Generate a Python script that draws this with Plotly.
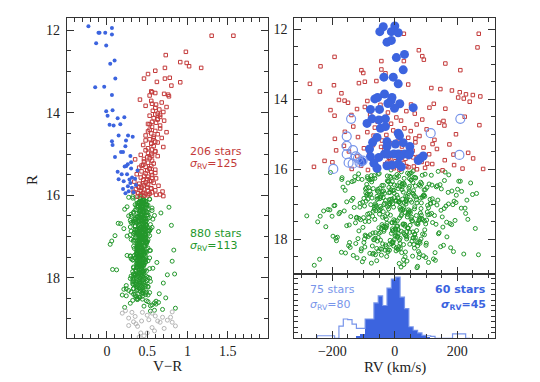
import plotly.graph_objects as go

# ---- Daten: blaue Sterne (linkes Panel, CMD)
blue_cmd_vr = [-0.23, -0.105, -0.092, -0.021, 0.062, 0.062, -0.134, -0.009, 0.095, 0.041,
               0.104, -0.146, -0.034, 0.062, -0.009, 0.07, 0.008, 0.133, 0.216, 0.033,
               0.083, 0.166, 0.145, 0.262, 0.32, 0.062, 0.07, 0.237, 0.229, 0.175,
               0.2, 0.1, 0.291, 0.258, 0.241, 0.3, 0.133, 0.183, 0.25, 0.312,
               0.145, 0.208, 0.291, 0.2, 0.27, 0.31, 0.23, 0.33, 0.36, 0.35,
               0.38, 0.3, 0.26, 0.22, 0.28]
blue_cmd_r = [11.90, 12.06, 12.06, 12.06, 11.94, 12.10, 12.31, 12.37, 12.73, 12.81,
              13.17, 13.38, 13.37, 13.57, 13.96, 13.94, 14.07, 14.13, 14.11, 14.29,
              14.31, 14.28, 14.55, 14.55, 14.58, 14.69, 14.78, 14.67, 14.81, 14.95,
              14.95, 15.07, 15.05, 15.25, 15.29, 15.20, 15.43, 15.49, 15.49, 15.57,
              15.61, 15.66, 15.70, 15.85, 15.90, 15.82, 15.95, 15.93, 15.75, 15.60,
              15.40, 15.35, 15.78, 15.30, 15.62]

# blaue Sterne im RV-Panel (60 gefuellt, 15 offen)
blue_rv = [-37, -48, 0, -11, 11, -25, -11, 5, 31, 27,
           -35, -5, 11, -55, -64, -33, -9, -12, -22, 16,
           59, -78, -49, -1, -73, -51, -30, -89, -46, -30,
           -57, 11, 15, -71, -25, 2, 27, 48, -81, -25,
           -33, -3, 11, 31, 48, -78, -51, -22, 16, 45,
           91, 82, 75, -105, -67, -57, -25, -9, 11, 21]
blue_rv_r = [11.93, 12.07, 11.91, 12.07, 12.10, 12.37, 12.32, 12.81, 12.72, 13.16,
             13.37, 13.37, 13.56, 13.95, 13.99, 13.85, 13.95, 14.04, 14.12, 14.13,
             14.24, 14.29, 14.29, 14.26, 14.56, 14.59, 14.56, 14.69, 14.83, 14.78,
             15.09, 14.97, 15.04, 15.23, 15.21, 15.28, 15.24, 15.35, 15.42, 15.35,
             15.56, 15.56, 15.56, 15.56, 15.52, 15.64, 15.66, 15.57, 15.64, 15.59,
             15.62, 15.69, 15.75, 15.78, 15.83, 15.97, 15.90, 15.88, 15.85, 15.93]
blue_open_rv = [-140, -154, -154, -134, -154, -125, -118, -148, -135, -113, -103, -197, 115, 210, 207]
blue_open_r = [14.56, 15.06, 15.33, 15.45, 15.57, 15.63, 15.69, 15.81, 15.84, 15.81, 15.75, 15.99, 14.97, 14.56, 15.59]

# ---- rote Sterne (206 stars): R, V-R, RV
red_r = [12.13, 12.13, 12.52, 12.60, 12.77, 12.79, 12.87, 12.91, 12.98, 12.91,
         13.06, 13.17, 13.25, 13.17, 13.15, 13.26, 13.34, 13.56, 13.60, 13.54,
         13.50, 13.48, 13.52, 13.58, 13.68,
         13.71, 13.75, 13.80, 13.83, 13.86, 13.88, 13.92, 13.95, 13.98, 14.02,
         14.04, 14.07, 14.10, 14.13, 14.16, 14.19, 14.22, 14.24, 14.27, 14.31,
         14.34, 14.38, 14.41, 14.44, 14.47, 14.50, 14.52, 14.55, 14.58, 14.61,
         14.64, 14.67, 14.70, 14.72, 14.75, 14.78, 14.81, 14.83, 14.86, 14.89,
         14.91, 14.94, 14.97, 15.00, 15.02, 15.05, 15.08, 15.10, 15.13, 15.16,
         15.18, 15.21, 15.23, 15.26, 15.29, 15.31, 15.33, 15.35, 15.38, 15.40,
         15.42, 15.44, 15.47, 15.49, 15.51, 15.53, 15.55, 15.57, 15.59, 15.61,
         15.63, 15.65, 15.67, 15.69, 15.70, 15.72, 15.74, 15.76, 15.77, 15.79,
         15.80, 15.82, 15.83, 15.85, 15.86, 15.88, 15.89, 15.90, 15.92, 15.93,
         15.94, 15.95, 15.96, 15.97, 15.98, 15.99, 16.00, 16.01, 16.02, 16.03,
         14.05, 14.28, 14.62, 14.93, 15.12, 15.36, 15.58, 15.71, 15.84, 15.91,
         13.78, 14.15, 14.45, 14.74, 15.04, 15.28, 15.46, 15.66, 15.81, 15.99]
red_vr = [1.30, 1.57, 0.98, 0.73, 0.91, 0.99, 1.02, 1.17, 0.60, 0.72,
          0.51, 0.46, 0.62, 0.72, 0.78, 0.91, 0.80, 0.76, 0.77, 0.71,
          0.56, 0.55, 0.60, 0.53, 0.41,
          0.55, 0.68, 0.61, 0.48, 0.74, 0.60, 0.65, 0.57, 0.70, 0.63,
          0.60, 0.53, 0.66, 0.58, 0.63, 0.71, 0.56, 0.61, 0.51, 0.66,
          0.56, 0.66, 0.53, 0.60, 0.74, 0.55, 0.63, 0.48, 0.58, 0.68,
          0.53, 0.48, 0.60, 0.63, 0.55, 0.45, 0.58, 0.70, 0.51, 0.56,
          0.48, 0.60, 0.51, 0.55, 0.42, 0.63, 0.50, 0.53, 0.35, 0.56,
          0.46, 0.51, 0.58, 0.45, 0.55, 0.48, 0.40, 0.53, 0.60, 0.50,
          0.43, 0.55, 0.48, 0.37, 0.56, 0.46, 0.51, 0.42, 0.61, 0.50,
          0.45, 0.53, 0.34, 0.48, 0.58, 0.40, 0.51, 0.46, 0.64, 0.39,
          0.50, 0.43, 0.55, 0.36, 0.46, 0.60, 0.42, 0.51, 0.33, 0.56,
          0.45, 0.39, 0.53, 0.48, 0.66, 0.42, 0.51, 0.46, 0.70, 0.38,
          0.66, 0.53, 0.58, 0.60, 0.46, 0.53, 0.56, 0.45, 0.55, 0.69,
          0.56, 0.63, 0.51, 0.55, 0.56, 0.43, 0.60, 0.55, 0.40, 0.61]
red_rv = [29, 269, 265, 77, 88, -193, 93, -43, 162, 29,
          -238, -107, -101, 210, -43, -30, -3, -272, -195, -115,
          -96, -59, 13, 43, 117,
          146, 183, 208, -171, 228, 250, 274, 203, 221, -179,
          -161, 240, -150, 125, -46, 8, -96, 111, 162, -206,
          37, -22, 64, -79, -193, 224, 5, -38, 88, 20,
          -55, 142, -12, 70, 159, -133, -64, 31, 102, -5,
          51, -88, 14, 196, -27, 79, -118, 43, -192, 127,
          -41, 8, 66, -15, 175, -70, -163, 23, 92, -99,
          135, -33, 57, -147, 18, 235, -82, 110, -6, 48,
          -120, 73, -19, 251, 34, -58, 160, -225, 2, 86,
          -200, 28, -71, 120, -31, 190, 11, -108, 61, -259,
          44, -52, 97, -3, 217, -138, 71, 15, -86, 153,
          -88, -121, 156, -160, 66, -44, 188, -14, 104, 37,
          -240, 52, -139, 271, -68, 121, -188, 59, -24, 283]

# ---- gruene Sterne (880 stars): R, V-R, RV
green_r = [16.02, 17.41, 18.23, 16.77, 17.05, 18.61, 16.34, 17.88, 16.91, 17.52,
           18.04, 16.15, 17.27, 16.58, 18.42, 17.69, 16.83, 17.14, 18.77, 16.46,
           17.36, 16.71, 18.15, 16.09, 17.93, 16.99, 18.33, 17.58, 16.27, 17.81,
           16.62, 18.52, 17.19, 16.88, 17.74, 16.39, 18.09, 17.47, 16.55, 18.69,
           17.03, 16.21, 17.62, 18.27, 16.95, 17.31, 16.48, 18.57, 17.85, 16.73,
           18.12, 16.66, 17.44, 16.12, 17.97, 18.38, 16.81, 17.23, 16.37, 17.66,
           16.93, 17.78, 18.47, 16.29, 17.11, 16.64, 18.21, 17.53, 16.05, 17.39,
           18.81, 16.52, 17.01, 17.91, 16.43, 18.18, 17.29, 16.86, 17.71, 18.44,
           16.18, 17.57, 16.97, 18.06, 17.34, 16.69, 17.83, 16.32, 18.64, 17.16,
           17.48, 16.79, 18.29, 16.24, 17.07, 17.92, 16.57, 18.49, 17.26, 16.89,
           16.11, 17.64, 18.35, 16.74, 17.18, 16.44, 17.99, 18.72, 16.98, 17.43,
           17.87, 16.31, 17.09, 18.11, 16.61, 17.55, 16.84, 18.25, 17.33, 16.07,
           18.56, 17.21, 16.41, 17.76, 16.92, 18.01, 17.46, 16.19, 17.68, 18.39,
           16.53, 17.12, 18.19, 16.87, 17.59, 16.26, 17.95, 18.66, 17.04, 16.68,
           17.29, 16.36, 17.84, 18.31, 16.76, 17.15, 16.49, 18.08, 17.51, 16.94,
           16.03, 17.73, 18.53, 16.63, 17.37, 16.82, 18.14, 17.02, 16.28, 17.89,
           18.24, 16.56, 17.24, 16.99, 17.63, 18.46, 16.14, 17.42, 16.72, 18.02,
           17.13, 16.45, 17.94, 18.36, 16.85, 17.57, 16.22, 18.74, 17.32, 16.61,
           16.96, 17.67, 16.38, 18.17, 17.08, 16.78, 17.82, 18.58, 16.51, 17.45,
           18.07, 16.24, 17.35, 16.91, 17.72, 18.28, 16.67, 17.17, 16.10, 17.98,
           16.47, 17.54, 18.41, 16.83, 17.26, 16.33, 17.86, 18.13, 17.01, 16.59,
           17.69, 16.16, 18.26, 17.38, 16.71, 17.97, 16.42, 18.62, 17.19, 16.89,
           16.25, 17.49, 16.95, 18.03, 17.61, 16.54, 17.11, 18.44, 16.80, 17.77,
           18.33, 16.65, 17.28, 16.08, 17.90, 18.19, 16.97, 17.44, 16.35, 17.60,
           16.74, 17.06, 18.50, 16.43, 17.81, 16.87, 18.10, 17.34, 16.20, 17.53,
           17.96, 16.58, 17.22, 18.37, 16.92, 17.65, 16.30, 18.79, 17.12, 16.69,
           16.13, 17.40, 18.21, 16.76, 17.03, 17.84, 16.50, 18.05, 17.56, 16.98,
           17.25, 16.39, 17.75, 18.30, 16.62, 17.14, 16.85, 18.55, 17.47, 16.17,
           18.16, 16.73, 17.37, 16.94, 17.70, 18.42, 16.26, 17.09, 16.56, 17.91,
           16.44, 17.58, 16.81, 18.09, 17.30, 16.67, 17.87, 18.68, 16.99, 17.18,
           17.52, 16.06, 18.27, 16.90, 17.43, 17.99, 16.60, 18.14, 17.07, 16.34,
           16.84, 17.63, 18.48, 16.23, 17.16, 16.77, 17.80, 18.35, 16.52, 17.39,
           18.01, 16.41, 17.27, 16.86, 17.67, 18.22, 16.15, 17.50, 16.96, 18.60,
           17.10, 16.64, 17.93, 18.12, 16.48, 17.35, 16.88, 18.40, 17.74, 16.29,
           16.35, 17.22, 17.81, 16.58, 17.49, 18.07, 16.93, 17.64, 16.17, 17.03,
           17.37, 16.71, 18.24, 16.44, 17.15, 17.73, 16.86, 17.96, 16.29, 17.56,
           18.13, 16.97, 17.43, 16.62, 17.88, 16.21, 17.29, 18.36, 16.79, 17.08,
           16.52, 17.67, 16.99, 17.34, 18.02, 16.38, 17.52, 16.83, 17.19, 18.45,
           17.77, 16.26, 17.12, 16.68, 17.93, 17.40, 16.47, 18.19, 17.01, 16.88,
           16.14, 17.58, 18.31, 16.75, 17.26, 16.55, 17.85, 17.06, 16.95, 18.10,
           17.46, 16.33, 17.70, 18.26, 16.64, 17.17, 16.91, 17.99, 16.42, 17.31,
           16.81, 17.62, 16.23, 17.38, 18.15, 16.60, 17.10, 17.83, 16.49, 18.40,
           17.24, 16.97, 18.05, 16.36, 17.55, 16.72, 17.91, 17.14, 16.18, 17.69,
           16.66, 17.44, 16.89, 18.21, 17.02, 16.31, 17.76, 18.52, 16.78, 17.33,
           17.95, 16.45, 17.28, 16.84, 17.61, 18.11, 16.57, 17.47, 16.27, 17.05,
           16.92, 17.79, 16.40, 17.20, 18.33, 16.69, 17.53, 16.98, 17.87, 16.12,
           17.36, 16.63, 17.97, 16.85, 17.13, 18.28, 16.50, 17.66, 16.24, 17.42,
           16.77, 17.57, 18.17, 16.34, 17.09, 16.94, 17.80, 16.46, 17.25, 18.01,
           17.71, 16.54, 17.32, 16.73, 17.90, 16.20, 17.48, 18.38, 16.82, 17.16]
green_vr = [0.41, 0.37, 0.51, 0.29, 0.46, 0.59, 0.22, 0.45, 0.38, 0.53,
            0.33, 0.48, 0.43, 0.57, 0.19, 0.40, 0.35, 0.49, 0.69, 0.30,
            0.46, 0.40, 0.32, 0.53, 0.75, 0.25, 0.45, 0.38, 0.43, 0.12,
            0.49, 0.37, 0.41, 0.64, 0.33, 0.45, 0.54, 0.29, 0.40, 0.46,
            0.35, 0.43, 0.48, 0.24, 0.41, 0.38, 0.51, 0.61, 0.32, 0.80,
            0.45, 0.30, 0.40, 0.37, 0.49, 0.43, 0.21, 0.46, 0.56, 0.38,
            0.33, 0.53, 0.40, 0.45, 0.06, 0.35, 0.48, 0.41, 0.27, 0.49,
            0.54, 0.38, 0.43, 0.33, 0.67, 0.46, 0.37, 0.51, 0.45, 0.24,
            0.40, 0.32, 0.46, 0.41, 0.54, 0.17, 0.37, 0.43, 0.61, 0.48,
            0.29, 0.45, 0.38, 0.51, 0.40, 0.33, 0.48, 0.73, 0.43, 0.37,
            0.46, 0.41, 0.30, 0.35, 0.49, 0.40, 0.45, 0.22, 0.53, 0.38,
            0.43, 0.56, 0.35, 0.48, 0.29, 0.46, 0.41, 0.37, 0.83, 0.32,
            0.49, 0.40, 0.45, 0.33, 0.43, 0.53, 0.25, 0.38, 0.46, 0.65,
            0.37, 0.48, 0.41, 0.30, 0.51, 0.45, 0.38, 0.56, 0.43, 0.14,
            0.41, 0.35, 0.49, 0.27, 0.46, 0.40, 0.59, 0.33, 0.45, 0.51,
            0.32, 0.43, 0.38, 0.48, 0.37, 0.54, 0.41, 0.46, 0.25, 0.40,
            0.45, 0.51, 0.33, 0.41, 0.62, 0.37, 0.43, 0.38, 0.48, 0.29,
            0.40, 0.46, 0.35, 0.53, 0.43, 0.32, 0.49, 0.85, 0.38, 0.45,
            0.48, 0.37, 0.41, 0.33, 0.45, 0.56, 0.40, 0.51, 0.30, 0.43,
            0.38, 0.49, 0.45, 0.35, 0.41, 0.21, 0.46, 0.40, 0.53, 0.33,
            0.43, 0.30, 0.48, 0.40, 0.37, 0.51, 0.45, 0.70, 0.41, 0.35,
            0.46, 0.40, 0.33, 0.43, 0.54, 0.38, 0.49, 0.29, 0.04, 0.45,
            0.37, 0.48, 0.41, 0.32, 0.45, 0.53, 0.40, 0.35, 0.46, 0.57,
            0.41, 0.33, 0.51, 0.45, 0.38, 0.24, 0.48, 0.43, 0.37, 0.81,
            0.49, 0.43, 0.38, 0.46, 0.35, 0.41, 0.32, 0.53, 0.45, 0.40,
            0.30, 0.46, 0.40, 0.48, 0.43, 0.37, 0.49, 0.59, 0.33, 0.41,
            0.45, 0.38, 0.51, 0.35, 0.41, 0.46, 0.27, 0.40, 0.48, 0.10,
            0.40, 0.49, 0.37, 0.45, 0.33, 0.43, 0.53, 0.32, 0.41, 0.46,
            0.35, 0.45, 0.40, 0.48, 0.38, 0.51, 0.43, 0.33, 0.46, 0.84,
            0.43, 0.37, 0.46, 0.40, 0.49, 0.32, 0.41, 0.54, 0.45, 0.38,
            0.48, 0.41, 0.33, 0.45, 0.37, 0.51, 0.40, 0.46, 0.30, 0.43,
            0.38, 0.46, 0.41, 0.35, 0.48, 0.43, 0.07, 0.49, 0.40, 0.45,
            0.41, 0.33, 0.45, 0.53, 0.40, 0.37, 0.48, 0.43, 0.29, 0.64,
            0.46, 0.40, 0.35, 0.43, 0.49, 0.38, 0.45, 0.33, 0.41, 0.77,
            0.43, 0.38, 0.47, 0.35, 0.41, 0.50, 0.39, 0.45, 0.42, 0.36,
            0.48, 0.40, 0.44, 0.33, 0.46, 0.39, 0.52, 0.42, 0.37, 0.45,
            0.41, 0.47, 0.36, 0.43, 0.40, 0.49, 0.34, 0.44, 0.42, 0.51,
            0.38, 0.45, 0.43, 0.37, 0.48, 0.41, 0.35, 0.46, 0.40, 0.44,
            0.42, 0.39, 0.50, 0.44, 0.36, 0.47, 0.41, 0.38, 0.45, 0.43,
            0.46, 0.40, 0.37, 0.49, 0.42, 0.35, 0.44, 0.48, 0.39, 0.41,
            0.34, 0.45, 0.42, 0.40, 0.47, 0.38, 0.43, 0.36, 0.51, 0.44,
            0.40, 0.48, 0.41, 0.46, 0.37, 0.43, 0.39, 0.45, 0.42, 0.35,
            0.47, 0.36, 0.44, 0.41, 0.38, 0.49, 0.42, 0.45, 0.40, 0.43,
            0.39, 0.46, 0.34, 0.43, 0.48, 0.41, 0.37, 0.44, 0.45, 0.40,
            0.44, 0.42, 0.38, 0.47, 0.40, 0.36, 0.45, 0.43, 0.49, 0.41,
            0.37, 0.43, 0.46, 0.39, 0.42, 0.48, 0.35, 0.44, 0.41, 0.45,
            0.42, 0.40, 0.44, 0.37, 0.50, 0.43, 0.46, 0.39, 0.41, 0.38,
            0.45, 0.41, 0.36, 0.44, 0.42, 0.47, 0.40, 0.43, 0.38, 0.46,
            0.40, 0.44, 0.43, 0.39, 0.46, 0.42, 0.37, 0.45, 0.48, 0.41]
green_rv = [-12, 87, -143, 35, 164, -58, 210, -95, 4, 121,
            -187, 46, -23, 98, -71, 258, -134, 19, 73, -41,
            152, -88, 61, -206, 9, 115, -52, 182, -117, 28,
            -36, 77, -162, 138, -5, 243, -99, 55, -69, 14,
            105, -128, 32, -47, 196, -14, 66, -241, 89, -82,
            17, 171, -110, 48, -63, 129, -2, -176, 83, -29,
            -154, 38, 92, -76, 225, -40, 147, -8, 59, -123,
            71, -19, 186, -92, 24, -148, 112, -57, 3, 268,
            -66, 132, -33, 80, -201, 44, -11, 159, -104, 26,
            95, -45, 11, -169, 64, -85, 201, -26, 118, -139,
            41, -221, 76, 7, -61, 145, -97, 29, -16, 234,
            -79, 52, -130, 101, -7, 177, -48, 63, -282, 21,
            124, -37, 86, -115, 13, -68, 193, -24, 42, -158,
            -91, 158, -4, 69, -146, 30, -53, 108, -195, 57,
            22, -74, 140, -31, 91, -214, 47, -9, 166, -103,
            -58, 11, -121, 214, -39, 82, -17, 135, -72, 36,
            179, -94, 50, -63, 6, -133, 97, -27, 249, -46,
            -20, 119, -184, 34, -86, 74, -1, -258, 127, 60,
            85, -51, 16, 156, -112, 40, -70, 28, -166, 102,
            -6, 66, -141, 190, -34, 9, -93, 148, 53, -118,
            136, -25, 79, -54, 227, -131, 31, -10, -77, 94,
            -43, 173, 18, -100, 60, -189, 110, 39, -228, 5,
            67, -83, 125, -15, -154, 45, 213, -62, 88, -35,
            -108, 27, -49, 161, 8, -72, 114, -3, -137, 49,
            197, -60, 33, -90, 142, -18, 75, -239, 12, -126,
            58, -13, 104, -171, 37, 154, -81, 20, -44, 262,
            -116, 81, -28, 62, -192, 11, 133, -56, 99, -7,
            43, -150, 70, -22, 183, -66, 25, -99, 1, 117,
            -30, 93, -122, 54, -8, 221, -87, 16, 149, -198,
            78, -41, 10, -145, 106, -19, 64, -75, 172, -50,
            -1, 139, -107, 35, -64, 84, -159, 48, -23, 205,
            120, -38, 57, -12, -208, 96, -46, 188, -84, 15,
            -65, 23, -179, 113, 41, -96, 7, -247, 71, 130,
            29, -52, 167, -125, 82, -31, 231, -80, 2, -170,
            -8, 45, -62, 23, -95, 71, 12, -33, 88, -19,
            54, -77, 5, 31, -48, 96, -14, 60, -105, 27,
            -39, 18, 79, -56, 3, -88, 41, -22, 67, -4,
            103, -28, 36, -71, 15, 58, -10, -99, 49, -43,
            21, -64, 84, -2, 39, -115, 7, 73, -35, 50,
            -53, 26, -17, 92, -81, 11, 64, -46, 30, -6,
            77, -24, 2, -58, 46, 19, -92, 38, -13, 85,
            -37, 9, 62, -84, 28, -3, 108, -51, 16, -68,
            34, -111, 55, -20, 70, -41, 1, 25, -75, 43,
            -15, 89, -30, 13, -60, 52, -7, 99, -45, 20,
            66, -1, -87, 37, -26, 81, -54, 8, 47, -97,
            -11, 58, 29, -69, 4, -33, 74, -18, 95, -50,
            40, -80, 17, -9, 63, -42, 24, -102, 6, 52,
            -57, 32, 100, -21, -65, 14, 48, -36, 82, -2,
            10, -48, 69, -90, 35, -16, 57, 22, -73, 44]

# ---- graue Sterne (ohne RV), nur CMD
gray_vr = [0.23, 0.27, 0.35, 0.44, 0.50, 0.56, 0.60, 0.69, 0.81, 0.33,
           0.43, 0.52, 0.63, 0.75, 0.38, 0.56, 0.71, 0.85, 0.42, 0.50,
           0.59, 0.46, 0.19, 0.31, 0.79, 0.66, 0.27, 0.81, 0.40, 0.36]
gray_r = [18.80, 18.98, 18.94, 18.84, 18.91, 18.86, 18.93, 18.96, 18.83, 19.07,
          19.05, 19.02, 19.05, 19.03, 19.18, 19.21, 19.23, 19.17, 19.34, 19.34,
          19.29, 19.41, 18.86, 18.84, 18.96, 19.08, 19.16, 19.08, 19.44, 19.12]

# ---- RV-Histogramme (Bins 14 km/s, Hoehe in Panel-Einheiten)
hist_centers = [-242, -228, -214, -200, -186, -172, -158, -144, -130, -116, -102, -88, -74,
                -60, -46, -32, -18, -4, 10, 24, 38, 52, 66, 80, 94, 108,
                122, 136, 150, 164, 178, 192, 206, 220, 234]
hist_all = [0.4, 0.4, 0.4, 0.4, 0, 1.9, 3.0, 2.9, 2.2, 1.55, 1.55, 3.0, 3.0,
            5.5, 6.6, 5.1, 7.8, 9.2, 9.5, 6.4, 4.6, 1.8, 1.25, 0.83, 0.47, 0.4,
            0.3, 0, 0, 0, 0, 0.7, 0.7, 0.7, 0]
hist_sel = [0, 0, 0, 0, 0, 0, 0, 0, 0, 0.36, 0.73, 3.0, 3.0,
            5.5, 6.6, 5.1, 7.8, 9.2, 9.5, 6.4, 4.6, 1.8, 1.25, 0.83, 0.47, 0.2,
            0, 0, 0, 0, 0, 0, 0, 0, 0]
bin_w = 14

BLUE = '#3c64df'
BLUE_L = '#7895ea'
RED = '#c33a3a'
GREEN = '#23972b'
GRAY = '#b5b5b5'
AX = '#333333'

W, H = 540, 382
OFF = 8  # Seitenrand des Browsers


def px(x):
    return (x - OFF) / W


def py(y):
    return 1 - (y - OFF) / H


fig = go.Figure()

# linkes Panel
fig.add_trace(go.Scatter(x=green_vr, y=green_r, mode='markers', xaxis='x', yaxis='y',
                         marker=dict(symbol='circle-open', size=4, color=GREEN, line=dict(width=1))))
fig.add_trace(go.Scatter(x=gray_vr, y=gray_r, mode='markers', xaxis='x', yaxis='y',
                         marker=dict(symbol='circle-open', size=4, color=GRAY, line=dict(width=1))))
fig.add_trace(go.Scatter(x=red_vr, y=red_r, mode='markers', xaxis='x', yaxis='y',
                         marker=dict(symbol='square-open', size=3.5, color=RED, line=dict(width=1))))
fig.add_trace(go.Scatter(x=blue_cmd_vr, y=blue_cmd_r, mode='markers', xaxis='x', yaxis='y',
                         marker=dict(symbol='circle', size=4, color=BLUE)))

# rechtes Panel oben
fig.add_trace(go.Scatter(x=green_rv, y=green_r, mode='markers', xaxis='x2', yaxis='y2',
                         marker=dict(symbol='circle-open', size=4, color=GREEN, line=dict(width=1))))
fig.add_trace(go.Scatter(x=red_rv, y=red_r, mode='markers', xaxis='x2', yaxis='y2',
                         marker=dict(symbol='square-open', size=3.5, color=RED, line=dict(width=1))))
fig.add_trace(go.Scatter(x=blue_rv, y=blue_rv_r, mode='markers', xaxis='x2', yaxis='y2',
                         marker=dict(symbol='circle', size=9, color=BLUE)))
fig.add_trace(go.Scatter(x=blue_open_rv, y=blue_open_r, mode='markers', xaxis='x2', yaxis='y2',
                         marker=dict(symbol='circle-open', size=9, color=BLUE_L, line=dict(width=1.2))))

# Histogramm unten rechts
fig.add_trace(go.Bar(x=hist_centers, y=hist_sel, width=bin_w, xaxis='x3', yaxis='y3',
                     marker=dict(color=BLUE, line=dict(width=0))))
edges = [c - bin_w / 2 for c in hist_centers] + [hist_centers[-1] + bin_w / 2]
step_x = [edges[0]] + edges
step_y = [0] + hist_all + [0]
fig.add_trace(go.Scatter(x=step_x, y=step_y, mode='lines', line_shape='hv', xaxis='x3', yaxis='y3',
                         line=dict(color=BLUE_L, width=1.2)))

tickfont = dict(family='Liberation Serif', size=14, color='#222')
base = dict(showline=True, linecolor=AX, linewidth=1, mirror='ticks', ticks='inside',
            ticklen=7, tickcolor=AX, showgrid=False, zeroline=False, tickfont=tickfont)

xl, xr = px(66.7), px(268)
xl2, xr2 = px(294.3), px(495.3)
ytop, ybot, ymid = py(18), py(338.3), py(274)

fig.update_layout(
    width=W, height=H, autosize=False,
    margin=dict(l=0, r=0, t=0, b=0),
    paper_bgcolor='white', plot_bgcolor='white',
    showlegend=False, bargap=0,
    xaxis=dict(base, domain=[xl, xr], range=[-0.4995, 1.9995], anchor='y', ticklabelstandoff=0,
               tick0=0, dtick=0.5, minor=dict(ticks='inside', ticklen=4, dtick=0.1, tickcolor=AX)),
    yaxis=dict(base, domain=[ybot, ytop], range=[19.47, 11.7], anchor='x', ticklabelstandoff=3,
               tick0=0, dtick=2, minor=dict(ticks='inside', ticklen=4, dtick=0.5, tickcolor=AX)),
    xaxis2=dict(base, domain=[xl2, xr2], range=[-322, 322], anchor='y2', showticklabels=False,
                tick0=0, dtick=200, minor=dict(ticks='inside', ticklen=4, dtick=50, tickcolor=AX)),
    yaxis2=dict(base, domain=[ymid, ytop], range=[18.99, 11.68], anchor='x2', ticklabelstandoff=3,
                tick0=0, dtick=2, minor=dict(ticks='inside', ticklen=4, dtick=0.5, tickcolor=AX)),
    xaxis3=dict(base, domain=[xl2, xr2], range=[-322, 322], anchor='y3', ticklabelstandoff=0,
                tick0=0, dtick=200, minor=dict(ticks='inside', ticklen=4, dtick=50, tickcolor=AX)),
    yaxis3=dict(base, domain=[ybot, ymid], range=[0, 10], anchor='x3', showticklabels=False,
                tick0=0, dtick=0.85, ticklen=4),
)

lab = dict(family='DejaVu Sans', size=11)
ann = [
    dict(x=px(188), y=py(151), text='206 stars', font=dict(lab, color=RED)),
    dict(x=px(188), y=py(164), text='<i>σ</i><sub>RV</sub>=125', font=dict(lab, color=RED)),
    dict(x=px(188), y=py(233), text='880 stars', font=dict(lab, color=GREEN)),
    dict(x=px(188), y=py(246), text='<i>σ</i><sub>RV</sub>=113', font=dict(lab, color=GREEN)),
    dict(x=px(308), y=py(289), text='75 stars', font=dict(lab, color=BLUE_L)),
    dict(x=px(308), y=py(305), text='<i>σ</i><sub>RV</sub>=80', font=dict(lab, color=BLUE_L)),
    dict(x=px(488), y=py(289), text='<b>60 stars</b>', xanchor='right', font=dict(lab, color=BLUE)),
    dict(x=px(488), y=py(305), text='<b><i>σ</i><sub>RV</sub>=45</b>', xanchor='right', font=dict(lab, color=BLUE)),
]
for a in ann:
    a.setdefault('xanchor', 'left')
    fig.add_annotation(xref='paper', yref='paper', yanchor='middle', showarrow=False, **a)

axt = dict(family='Liberation Serif', size=15, color='#222')
fig.add_annotation(x=px(167), y=py(366), xref='paper', yref='paper', text='V−R',
                   xanchor='center', yanchor='middle', showarrow=False, font=axt)
fig.add_annotation(x=px(395), y=py(367), xref='paper', yref='paper', text='RV (km/s)',
                   xanchor='center', yanchor='middle', showarrow=False, font=axt)
fig.add_annotation(x=px(32), y=py(180), xref='paper', yref='paper', text='R',
                   xanchor='center', yanchor='middle', showarrow=False, textangle=-90, font=axt)

fig.write_html("out.html")
